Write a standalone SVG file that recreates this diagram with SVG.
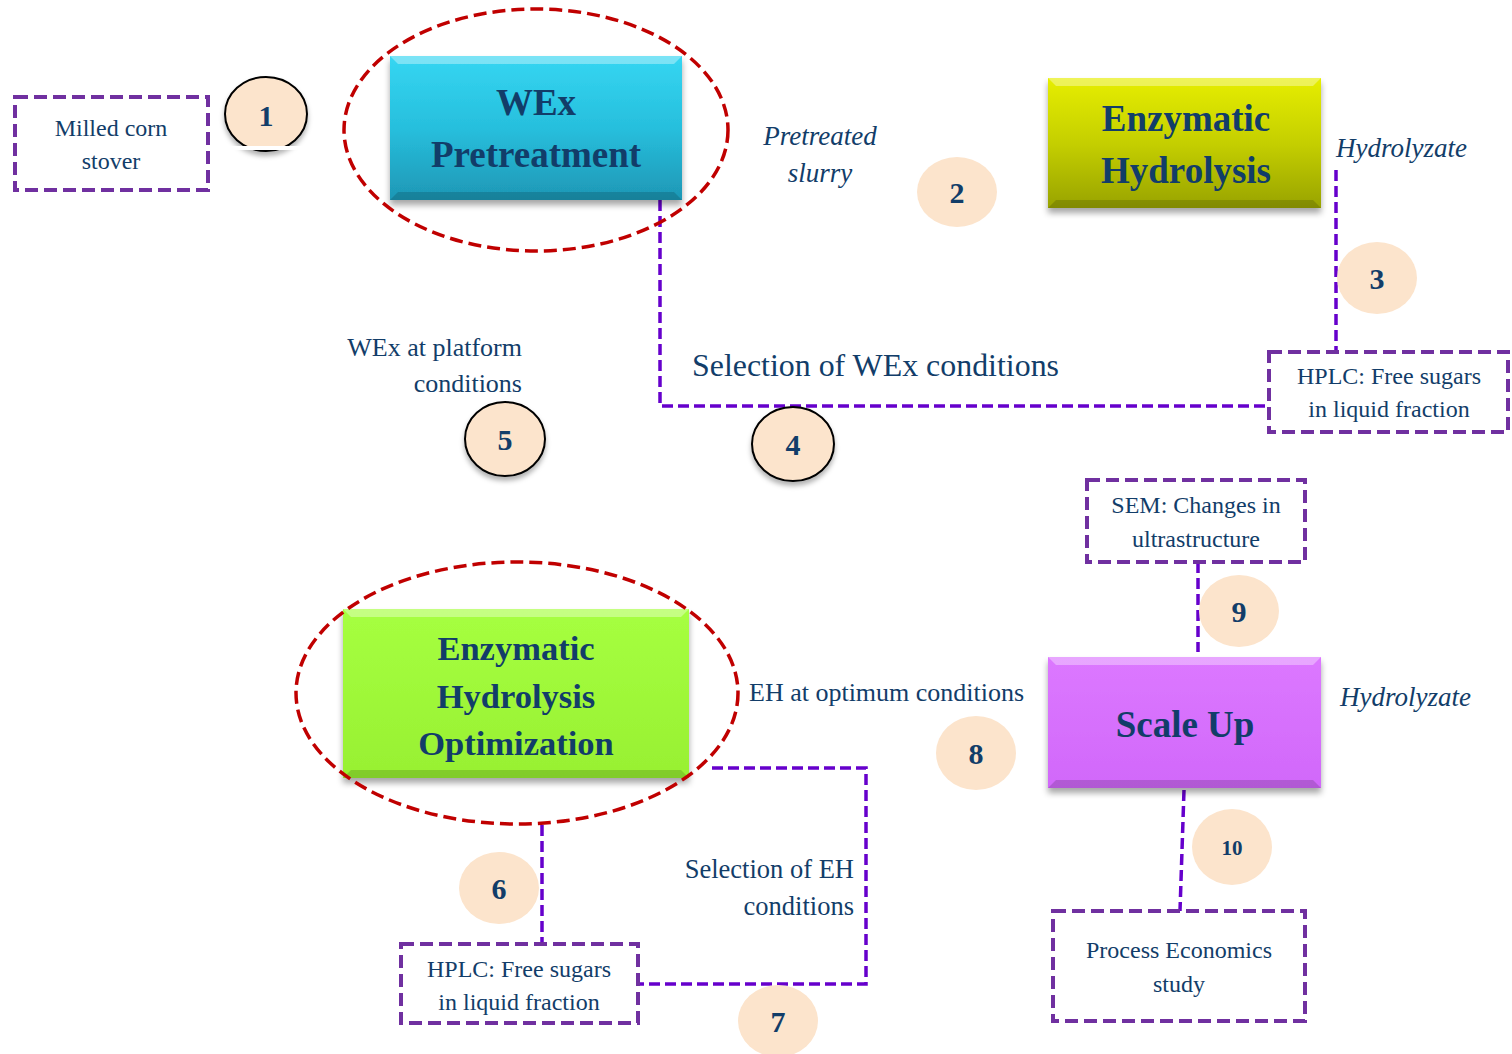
<svg xmlns="http://www.w3.org/2000/svg" width="1512" height="1054" viewBox="0 0 1512 1054">
<defs>
<linearGradient id="gCyan" x1="0" y1="0" x2="0" y2="1"><stop offset="0" stop-color="#35d6f2"/><stop offset="0.5" stop-color="#27bfdd"/><stop offset="1" stop-color="#1e97b5"/></linearGradient>
<linearGradient id="gYel" x1="0" y1="0" x2="0" y2="1"><stop offset="0" stop-color="#e6ee00"/><stop offset="0.5" stop-color="#c5cf00"/><stop offset="1" stop-color="#98a300"/></linearGradient>
<linearGradient id="gGrn" x1="0" y1="0" x2="0" y2="1"><stop offset="0" stop-color="#a6ff40"/><stop offset="1" stop-color="#98f032"/></linearGradient>
<linearGradient id="gMag" x1="0" y1="0" x2="0" y2="1"><stop offset="0" stop-color="#dc78ff"/><stop offset="1" stop-color="#d168fa"/></linearGradient>
<filter id="sh" x="-10%" y="-10%" width="125%" height="135%"><feDropShadow dx="0" dy="5" stdDeviation="3" flood-color="#000" flood-opacity="0.35"/></filter>
<filter id="shc" x="-20%" y="-20%" width="150%" height="150%"><feDropShadow dx="0" dy="4" stdDeviation="2.5" flood-color="#000" flood-opacity="0.3"/></filter>
</defs>
<style>
.box{fill:#fff;stroke:#7030a0;stroke-width:4;stroke-dasharray:13 6}
.con{fill:none;stroke:#6600cc;stroke-width:3.5;stroke-dasharray:11 5}
.ell{fill:none;stroke:#c00000;stroke-width:3.5;stroke-dasharray:13 6}
.t{font-family:"Liberation Serif",serif;fill:#123d69}
.lbl{font-size:24px;text-anchor:middle}
.it{font-style:italic;font-size:27px}
.big{font-weight:bold;font-size:37px;text-anchor:middle}
.bg{font-weight:bold;font-size:34.5px;text-anchor:middle}
.num{font-weight:bold;font-size:30px;text-anchor:middle}
.n10{font-weight:bold;font-size:21px;text-anchor:middle}
.c{fill:#fce4cc}
.cs{fill:#fce4cc;stroke:#000;stroke-width:2;filter:url(#shc)}
.hl{fill:#fff;opacity:0.35}
.dk{fill:#000;opacity:0.15}
</style>
<rect width="1512" height="1054" fill="#fff"/>

<g id="connectors">
<path class="con" d="M660 200 V406 H1269"/>
<path class="con" d="M1336 170 V352"/>
<path class="con" d="M1198 562 V652"/>
<path class="con" d="M1184 790 L1180 911"/>
<path class="con" d="M542 825 V944"/>
<path class="con" d="M712 768 H866 V984 H638"/>
</g>

<g id="n-milled"><rect class="box" x="15" y="97" width="193" height="93"/>
<text class="t lbl" x="111" y="136">Milled corn</text><text class="t lbl" x="111" y="169">stover</text></g>

<g id="c1"><ellipse class="cs" cx="266" cy="114" rx="41" ry="37"/><rect x="222" y="146" width="90" height="4" fill="#fff"/><text class="t num" x="266" y="126">1</text></g>

<g id="n-wex">
<rect x="390" y="56" width="292" height="144" fill="url(#gCyan)" filter="url(#sh)"/>
<polygon class="hl" points="390,56 682,56 674,64 398,64"/>
<polygon class="dk" points="390,200 682,200 674,192 398,192"/>
<text class="t big" x="536" y="115">WEx</text><text class="t big" x="536" y="167">Pretreatment</text>
<ellipse class="ell" cx="536" cy="130" rx="192" ry="121"/>
</g>

<g id="l-slurry"><text class="t it" x="820" y="145" text-anchor="middle">Pretreated</text><text class="t it" x="820" y="182" text-anchor="middle">slurry</text></g>

<g id="c2"><ellipse class="c" cx="957" cy="192" rx="40" ry="35"/><text class="t num" x="957" y="203">2</text></g>

<g id="n-eh">
<rect x="1048" y="78" width="273" height="130" fill="url(#gYel)" filter="url(#sh)"/>
<polygon class="hl" points="1048,78 1321,78 1313,86 1056,86"/>
<polygon class="dk" points="1048,208 1321,208 1313,200 1056,200"/>
<text class="t big" x="1186" y="131">Enzymatic</text><text class="t big" x="1186" y="183">Hydrolysis</text>
</g>

<g id="l-hyd1"><text class="t it" x="1336" y="157">Hydrolyzate</text></g>

<g id="c3"><ellipse class="c" cx="1377" cy="278" rx="40" ry="36"/><text class="t num" x="1377" y="289">3</text></g>

<g id="n-hplc1"><rect class="box" x="1269" y="352" width="239" height="80"/>
<text class="t lbl" x="1389" y="384">HPLC: Free sugars</text><text class="t lbl" x="1389" y="417">in liquid fraction</text></g>

<g id="l-selwex"><text class="t" x="692" y="376" font-size="31" textLength="367" lengthAdjust="spacingAndGlyphs">Selection of WEx conditions</text></g>

<g id="l-platform"><text class="t" x="522" y="356" font-size="26" text-anchor="end">WEx at platform</text><text class="t" x="522" y="392" font-size="26" text-anchor="end">conditions</text></g>

<g id="c5"><ellipse class="cs" cx="505" cy="439" rx="40" ry="37"/><text class="t num" x="505" y="450">5</text></g>
<g id="c4"><ellipse class="cs" cx="793" cy="444" rx="41" ry="37"/><text class="t num" x="793" y="455">4</text></g>

<g id="n-sem"><rect class="box" x="1087" y="480" width="218" height="82"/>
<text class="t lbl" x="1196" y="513">SEM: Changes in</text><text class="t lbl" x="1196" y="547">ultrastructure</text></g>

<g id="c9"><ellipse class="c" cx="1239" cy="611" rx="40" ry="36"/><text class="t num" x="1239" y="622">9</text></g>

<g id="n-scale">
<rect x="1048" y="657" width="273" height="131" fill="url(#gMag)" filter="url(#sh)"/>
<polygon class="hl" points="1048,657 1321,657 1313,665 1056,665"/>
<polygon class="dk" points="1048,788 1321,788 1313,780 1056,780"/>
<text class="t big" x="1185" y="737">Scale Up</text>
</g>

<g id="l-hyd2"><text class="t it" x="1340" y="706">Hydrolyzate</text></g>

<g id="l-ehopt"><text class="t" x="749" y="701" font-size="26">EH at optimum conditions</text></g>

<g id="c8"><ellipse class="c" cx="976" cy="753" rx="40" ry="37"/><text class="t num" x="976" y="764">8</text></g>

<g id="c10"><ellipse class="c" cx="1232" cy="847" rx="40" ry="38"/><text class="t n10" x="1232" y="855">10</text></g>

<g id="n-econ"><rect class="box" x="1053" y="911" width="252" height="110"/>
<text class="t lbl" x="1179" y="958">Process Economics</text><text class="t lbl" x="1179" y="992">study</text></g>

<g id="n-ehopt">
<rect x="343" y="609" width="346" height="169" fill="url(#gGrn)" filter="url(#sh)"/>
<polygon class="hl" points="343,609 689,609 681,617 351,617"/>
<polygon class="dk" points="343,778 689,778 681,770 351,770"/>
<text class="t bg" x="516" y="660">Enzymatic</text><text class="t bg" x="516" y="708">Hydrolysis</text><text class="t bg" x="516" y="755">Optimization</text>
<ellipse class="ell" cx="517" cy="693" rx="221" ry="131"/>
</g>

<g id="c6"><ellipse class="c" cx="499" cy="888" rx="40" ry="36"/><text class="t num" x="499" y="899">6</text></g>

<g id="n-hplc2"><rect class="box" x="401" y="944" width="237" height="79"/>
<text class="t lbl" x="519" y="977">HPLC: Free sugars</text><text class="t lbl" x="519" y="1010">in liquid fraction</text></g>

<g id="l-seleh"><text class="t" x="854" y="878" font-size="26.5" text-anchor="end">Selection of EH</text><text class="t" x="854" y="915" font-size="26.5" text-anchor="end">conditions</text></g>

<g id="c7"><ellipse class="c" cx="778" cy="1021" rx="40" ry="36"/><text class="t num" x="778" y="1032">7</text></g>
</svg>
